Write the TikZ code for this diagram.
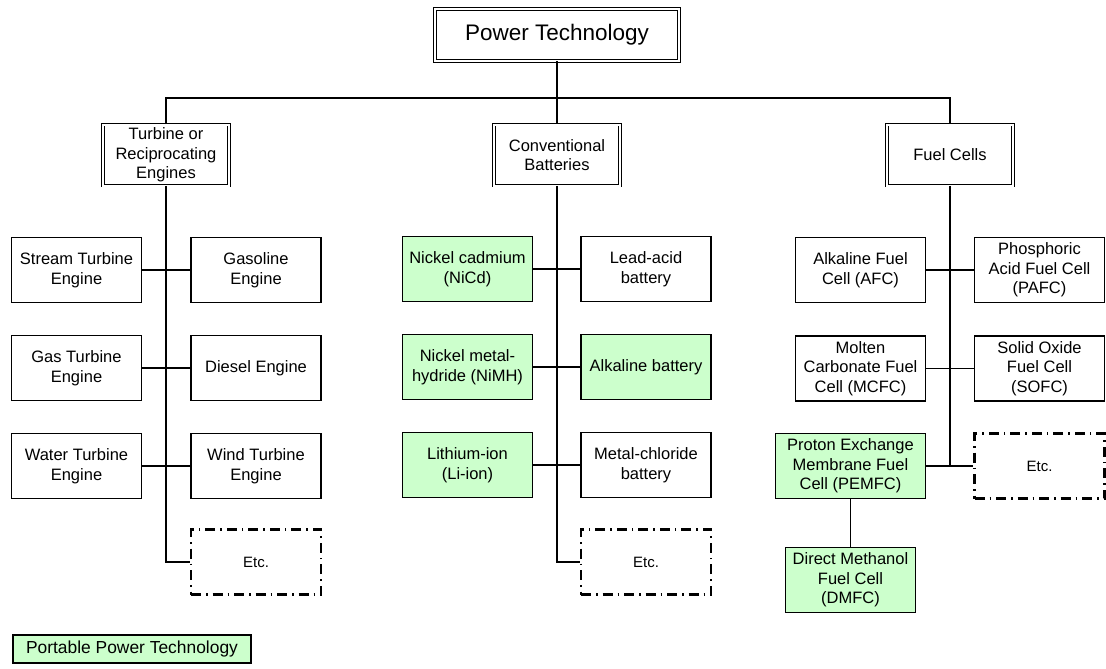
\documentclass[tikz,border=0pt]{standalone}
\usepackage{fontspec}
\setmainfont{Liberation Sans}
\usepackage{xcolor}
\usepackage{tikz}
\usetikzlibrary{positioning}
\definecolor{portablegreen}{RGB}{204,255,204}
\tikzstyle{box} = [draw, line width=1.2pt, minimum width=130pt, minimum height=65pt, inner sep=2pt, align=center, font=\fontsize{16.5}{19.5}\selectfont]
\tikzstyle{portable} = [box, fill=portablegreen]
\tikzstyle{headbox} = [box, line width=0.9pt, double, double distance=2pt, minimum width=126pt, minimum height=61pt]
\tikzstyle{etcbox} = [box, line width=2.4pt, dash pattern=on 10pt off 5pt on 1.5pt off 5pt, font=\fontsize{15}{18}\selectfont]
\tikzstyle{trunk} = [line width=2pt]
\tikzstyle{branch} = [line width=1.3pt]

\begin{document}
\begin{tikzpicture}[x=1pt, y=-1pt]
    \useasboundingbox (0,0) rectangle (1106,669);

    % root and the three families
    \node[headbox, minimum width=244pt, minimum height=52pt, font=\fontsize{22.5}{26}\selectfont] (power) at (557,35) {Power Technology};
    \node[headbox] (turbine) at (166,155) {Turbine or\\Reciprocating\\Engines};
    \node[headbox] (battery) at (557,155) {Conventional\\Batteries};
    \node[headbox] (fuel) at (950,155) {Fuel Cells};
    \coordinate (bus) at (557,98);

    \draw[trunk] (power) -- (bus);
    \draw[trunk] (turbine.north) |- (bus) -| (fuel.north);
    \draw[trunk] (bus) -- (battery.north);

    % engines
    \node[box] (steam) at (76.5,270) {Stream Turbine\\Engine};
    \node[box] (gasoline) at (256,270) {Gasoline\\Engine};
    \node[box] (gasturb) at (76.5,368) {Gas Turbine\\Engine};
    \node[box] (diesel) at (256,368) {Diesel Engine};
    \node[box] (water) at (76.5,466) {Water Turbine\\Engine};
    \node[box] (wind) at (256,466) {Wind Turbine\\Engine};
    \node[etcbox] (engetc) at (256,562) {Etc.};

    \draw[trunk] (turbine.south) |- (engetc.west);
    \draw[branch] (steam) -- (gasoline);
    \draw[branch] (gasturb) -- (diesel);
    \draw[branch] (water) -- (wind);

    % batteries
    \node[portable] (nicd) at (467.5,269) {Nickel cadmium\\(NiCd)};
    \node[box] (leadacid) at (646,269) {Lead-acid\\battery};
    \node[portable] (nimh) at (467.5,367) {Nickel metal-\\hydride (NiMH)};
    \node[portable] (alkaline) at (646,367) {Alkaline battery};
    \node[portable] (liion) at (467.5,465) {Lithium-ion\\(Li-ion)};
    \node[box] (metalcl) at (646,465) {Metal-chloride\\battery};
    \node[etcbox] (batetc) at (646,562) {Etc.};

    \draw[trunk] (battery.south) |- (batetc.west);
    \draw[branch] (nicd) -- (leadacid);
    \draw[branch] (nimh) -- (alkaline);
    \draw[branch] (liion) -- (metalcl);

    % fuel cells
    \node[box] (afc) at (860.5,270) {Alkaline Fuel\\Cell (AFC)};
    \node[box] (pafc) at (1039.5,270) {Phosphoric\\Acid Fuel Cell\\(PAFC)};
    \node[box] (mcfc) at (860.5,368.5) {Molten\\Carbonate Fuel\\Cell (MCFC)};
    \node[box] (sofc) at (1039.5,368.5) {Solid Oxide\\Fuel Cell\\(SOFC)};
    \node[portable, minimum width=150pt] (pemfc) at (850.5,466) {Proton Exchange\\Membrane Fuel\\Cell (PEMFC)};
    \node[etcbox] (fueletc) at (1039.5,466) {Etc.};
    \node[portable] (dmfc) at (850.5,580) {Direct Methanol\\Fuel Cell\\(DMFC)};

    \draw[trunk] (fuel.south) -- (fuel.south |- pemfc.east);
    \draw[branch] (afc) -- (pafc);
    \draw[branch] (mcfc) -- (sofc);
    \draw[branch] (pemfc) -- (fueletc);
    \draw[branch] (pemfc) -- (dmfc);

    % legend
    \node[portable, minimum width=238pt, minimum height=28pt, font=\fontsize{17.4}{20}\selectfont] (legend) at (132,649) {Portable Power Technology};
\end{tikzpicture}
\end{document}
